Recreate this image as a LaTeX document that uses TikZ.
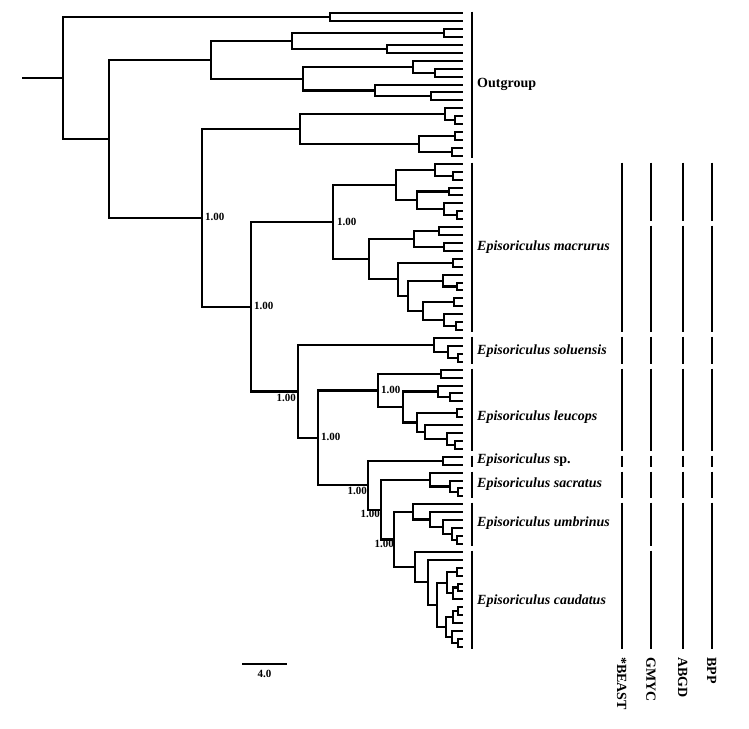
\documentclass[tikz,border=0pt]{standalone}
\usepackage{fontspec}
\setmainfont{Liberation Serif}
\usetikzlibrary{calc}
\tikzset{
 br/.style={line width=2.1pt, line join=miter},
 cladebar/.style={line width=2.4pt},
 colseg/.style={line width=2.4pt},
 spl/.style={anchor=west, font=\fontsize{14}{16}\selectfont\bfseries\itshape, inner sep=0pt},
 post/.style={font=\fontsize{11}{12}\selectfont\bfseries, inner sep=0pt},
 meth/.style={rotate=-90, anchor=west, font=\fontsize{14}{16}\selectfont\bfseries, inner sep=0pt},
}
\newcommand\cl[4]{%
 \path let \p1=(#3), \p2=(#4) in coordinate (#1) at (#2pt,{0.5*(\y1)+0.5*(\y2)});
 \draw[br] (#1) |- (#3);
 \draw[br] (#1) |- (#4);}
\newcommand\tipy[1]{round(13.3+(#1-1)*7.92)}
\newcommand\seg[4][colseg]{\draw[#1] (#2,{\tipy{#3}-1.5}) -- (#2,{\tipy{#4}+1.5});}
\begin{document}
\begin{tikzpicture}[x=1pt,y=-1pt]
\useasboundingbox (0,0) rectangle (749,728);
\fill[white] (0,0) rectangle (749,728);
\foreach \i in {1,...,81} {\coordinate (t\i) at (463,{\tipy{\i}});}
% outgroup
\cl{oa}{330}{t1}{t2}
\cl{ob1}{444}{t3}{t4}
\cl{ob2}{387}{t5}{t6}
\cl{ob}{292}{ob1}{ob2}
\cl{oc1}{435}{t8}{t9}
\cl{oc}{413}{t7}{oc1}
\cl{od1}{431}{t11}{t12}
\cl{od}{375}{t10}{od1}
\cl{oe}{303}{oc}{od}
\cl{of}{211}{ob}{oe}
\cl{og1}{455}{t14}{t15}
\cl{og}{445}{t13}{og1}
\cl{oh1}{455}{t16}{t17}
\cl{oh2}{452}{t18}{t19}
\cl{oh}{419}{oh1}{oh2}
\cl{oi}{300}{og}{oh}
% macrurus
\cl{m1a}{453}{t21}{t22}
\cl{m1}{435}{t20}{m1a}
\cl{m2a}{449}{t23}{t24}
\cl{m2b1}{457}{t26}{t27}
\cl{m2b}{444}{t25}{m2b1}
\cl{m2}{417}{m2a}{m2b}
\cl{mU}{396}{m1}{m2}
\cl{m3a}{439}{t28}{t29}
\cl{m3b}{444}{t30}{t31}
\cl{m3}{414}{m3a}{m3b}
\cl{m4a}{453}{t32}{t33}
\cl{m4b1}{457}{t35}{t36}
\cl{m4b}{443}{t34}{m4b1}
\cl{m4c1}{454}{t37}{t38}
\cl{m4c2a}{456}{t40}{t41}
\cl{m4c2}{444}{t39}{m4c2a}
\cl{m4c}{423}{m4c1}{m4c2}
\cl{m4d}{408}{m4b}{m4c}
\cl{m4}{398}{m4a}{m4d}
\cl{mL}{369}{m3}{m4}
\cl{C}{333}{mU}{mL}
% soluensis
\cl{s3}{458}{t44}{t45}
\cl{s2}{448}{t43}{s3}
\cl{s1}{434}{t42}{s2}
% leucops
\cl{l1}{441}{t46}{t47}
\cl{l2a}{450}{t49}{t50}
\cl{l2}{438}{t48}{l2a}
\cl{l3a}{457}{t51}{t52}
\cl{l3c}{455}{t55}{t56}
\cl{l3b1}{447}{t54}{l3c}
\cl{l3b}{425}{t53}{l3b1}
\cl{l3}{417}{l3a}{l3b}
\cl{lL}{403}{l2}{l3}
\cl{G}{378}{l1}{lL}
% sp.
\cl{spn}{443}{t57}{t58}
% sacratus
\cl{sc3}{458}{t61}{t62}
\cl{sc2}{450}{t60}{sc3}
\cl{sc1}{430}{t59}{sc2}
% umbrinus
\cl{u4}{457}{t67}{t68}
\cl{u3}{452}{t66}{u4}
\cl{u2}{443}{t65}{u3}
\cl{u1}{430}{t64}{u2}
\cl{u0}{413}{t63}{u1}
% caudatus
\cl{KA1}{457}{t71}{t72}
\cl{KA3}{458}{t73}{t74}
\cl{KA2}{453}{KA3}{t75}
\cl{KA}{447}{KA1}{KA2}
\cl{KB2}{458}{t76}{t77}
\cl{KB1}{453}{KB2}{t78}
\cl{KB4}{458}{t80}{t81}
\cl{KB3}{452}{t79}{KB4}
\cl{KB}{446}{KB1}{KB3}
\cl{K3}{437}{KA}{KB}
\cl{K2}{428}{t70}{K3}
\cl{K}{415}{t69}{K2}
% backbone
\cl{J}{394}{u0}{K}
\cl{I}{381}{sc1}{J}
\cl{H}{368}{spn}{I}
\cl{F}{318}{G}{H}
\cl{E}{298}{s1}{F}
\cl{D}{251}{C}{E}
\cl{B}{202}{oi}{D}
\cl{A}{109}{of}{B}
\cl{root}{63}{oa}{A}
\coordinate (stemx) at (22,0);
\draw[br] (root) -- (root -| stemx);
% posterior labels
\node[post, anchor=west] (pB) at (205,217) {1.00};
\node[post, anchor=west] (pC) at (337,222) {1.00};
\node[post, anchor=west] (pD) at (254,306) {1.00};
\node[post, anchor=east] (pE) at (296,398) {1.00};
\node[post, anchor=west] (pF) at (321,437) {1.00};
\node[post, anchor=west] (pG) at (381,390) {1.00};
\node[post, anchor=east] (pH) at (367,491) {1.00};
\node[post, anchor=east] (pI) at (380,514) {1.00};
\node[post, anchor=east] (pJ) at (394,544) {1.00};
% clade bars
\seg[cladebar]{472}{1}{19}
\seg[cladebar]{472}{20}{41}
\seg[cladebar]{472}{42}{45}
\seg[cladebar]{472}{46}{56}
\seg[cladebar]{472}{57}{58}
\seg[cladebar]{472}{59}{62}
\seg[cladebar]{472}{63}{68}
\seg[cladebar]{472}{69}{81}
% clade labels
\node[spl, font=\fontsize{14}{16}\selectfont\bfseries] (Lout) at (477,84) {Outgroup};
\node[spl] (Lmac) at (477,247) {Episoriculus macrurus};
\node[spl] (Lsol) at (477,351) {Episoriculus soluensis};
\node[spl] (Lleu) at (477,417) {Episoriculus leucops};
\node[spl] (Lsp) at (477,460) {Episoriculus \textup{sp.}};
\node[spl] (Lsac) at (477,484) {Episoriculus sacratus};
\node[spl] (Lumb) at (477,523) {Episoriculus umbrinus};
\node[spl] (Lcau) at (477,601) {Episoriculus caudatus};
% delimitation columns
\foreach \a/\b in {20/41,42/45,46/56,57/58,59/62,63/81} {\seg{621.7}{\a}{\b}}
\foreach \a/\b in {20/27,28/41,42/45,46/56,57/58,59/62,63/68,69/81} {\seg{651}{\a}{\b}}
\foreach \a/\b in {20/27,28/41,42/45,46/56,57/58,59/62,63/81} {\seg{682.7}{\a}{\b}}
\foreach \a/\b in {20/27,28/41,42/45,46/56,57/58,59/62,63/81} {\seg{711.7}{\a}{\b}}
\node[meth] (MB) at (621.7,657) {*BEAST};
\node[meth] (MG) at (651,657) {GMYC};
\node[meth] (MA) at (682.7,657) {ABGD};
\node[meth] (MP) at (711.7,657) {BPP};
% scale bar
\coordinate (sb1) at (242,664);
\coordinate (sb2) at (287,664);
\draw[line width=1.4pt] (sb1) -- (sb2);
\node[font=\fontsize{11}{12}\selectfont\bfseries, inner sep=0pt] (sbl) at (264.5,674) {4.0};
\end{tikzpicture}
\end{document}
